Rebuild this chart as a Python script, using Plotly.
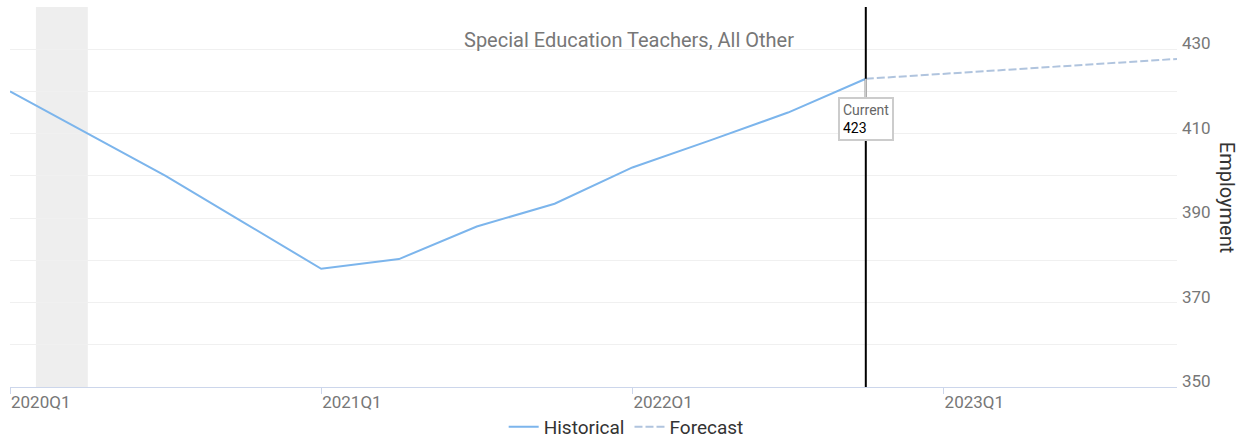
import plotly.graph_objects as go

# ---- data ----
quarters = ["2020Q1", "2020Q2", "2020Q3", "2020Q4",
            "2021Q1", "2021Q2", "2021Q3", "2021Q4",
            "2022Q1", "2022Q2", "2022Q3", "2022Q4",
            "2023Q1", "2023Q2", "2023Q3", "2023Q4"]
historical = [420, 410, 400, 389, 378, 380.3, 388, 393.4, 402, 408.4, 415, 423]
forecast = [423, 424.2, 425.4, 426.5, 427.7]
current_value = 423
tick_labels = ["2020Q1", "2021Q1", "2022Q1", "2023Q1"]
recession = (1 / 3, 1.0)  # in quarter units (Feb 2020 - Apr 2020)

FONT = "Roboto"

hist_x = list(range(len(historical)))
cur_idx = len(historical) - 1
fc_x = list(range(cur_idx, cur_idx + len(forecast)))
tick_pos = [quarters.index(t) for t in tick_labels]

fig = go.Figure()
fig.add_trace(go.Scatter(x=hist_x, y=historical, mode="lines", name="Historical",
                         line=dict(color="#7cb5ec", width=2)))
fig.add_trace(go.Scatter(x=fc_x, y=forecast, mode="lines", name="Forecast",
                         line=dict(color="#b0c4de", width=2, dash="8px,3px")))

fig.add_shape(type="rect", xref="x", yref="paper", x0=recession[0], x1=recession[1],
              y0=0, y1=1, fillcolor="#eeeeee", line=dict(width=0), layer="below")
fig.add_shape(type="line", xref="x", yref="paper", x0=cur_idx, x1=cur_idx, y0=0, y1=1,
              line=dict(color="#000000", width=2), layer="above")

fig.add_annotation(x=cur_idx, y=current_value, xref="x", yref="y",
                   text="<span style='color:#666666'>Current</span><br><span style='color:#000000'>%d</span>" % current_value,
                   showarrow=True, arrowhead=0, arrowcolor="#cccccc", arrowwidth=2,
                   ax=0, ay=40, align="left", bgcolor="#ffffff",
                   bordercolor="#cccccc", borderwidth=2, borderpad=3,
                   font=dict(family=FONT, size=14, color="#000000"))

fig.add_annotation(x=0.530, y=0.913, xref="paper", yref="paper",
                   xanchor="center", yanchor="middle",
                   text="Special Education Teachers, All Other", showarrow=False,
                   font=dict(family=FONT, size=20, color="#777777"))

fig.add_annotation(x=1.043, y=0.5, xref="paper", yref="paper", text="Employment",
                   xanchor="center", yanchor="middle",
                   textangle=90, showarrow=False,
                   font=dict(family=FONT, size=20, color="#333333"))

fig.update_layout(
    width=1253, height=440,
    margin=dict(l=10, r=76, t=7, b=53, autoexpand=False),
    plot_bgcolor="#ffffff", paper_bgcolor="#ffffff",
    font=dict(family=FONT),
    showlegend=True,
    legend=dict(orientation="h", x=0.528, xanchor="center", y=-0.105, yanchor="middle",
                font=dict(family=FONT, size=19, color="#333333"), itemwidth=30),
    xaxis=dict(range=[0, len(quarters) - 1], tickvals=tick_pos, ticktext=tick_labels,
               ticks="outside", ticklen=6, tickcolor="#ccd6eb", showline=True,
               linecolor="#ccd6eb", linewidth=1, showgrid=False, zeroline=False,
               ticklabelposition="outside right",
               tickfont=dict(family=FONT, size=17, color="#777777")),
    yaxis=dict(side="right", range=[350, 440], tick0=350, dtick=20, showgrid=True,
               gridcolor="#f0f0f0", zeroline=False, ticks="",
               minor=dict(dtick=10, tick0=350, showgrid=True, gridcolor="#f0f0f0"),
               ticklabelposition="outside", ticklabelshift=-6, ticklabelstandoff=4,
               tickfont=dict(family=FONT, size=17, color="#777777")),
)

fig.write_html("out.html")
